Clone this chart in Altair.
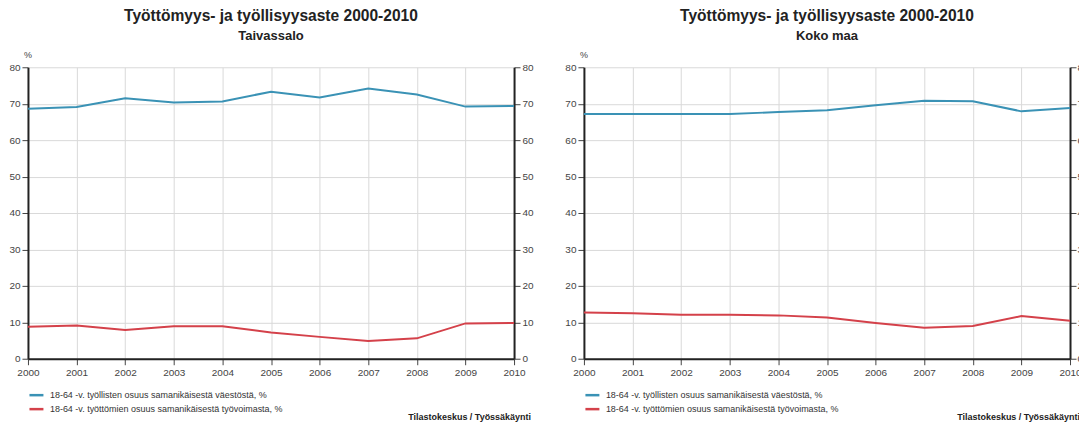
import altair as alt
import pandas as pd

years = list(range(2000, 2011))
taivassalo_employed = [68.6, 69.1, 71.5, 70.3, 70.6, 73.3, 71.7, 74.2, 72.5, 69.2, 69.4]
taivassalo_unemployed = [8.8, 9.1, 7.9, 8.9, 8.9, 7.2, 6.0, 4.9, 5.6, 9.7, 9.8]
koko_employed = [67.2, 67.2, 67.2, 67.2, 67.7, 68.2, 69.6, 70.8, 70.7, 67.9, 68.8]
koko_unemployed = [12.7, 12.5, 12.1, 12.1, 11.9, 11.3, 9.8, 8.5, 9.0, 11.7, 10.4]
y_ticks = [0, 10, 20, 30, 40, 50, 60, 70, 80]
series_names = [
    "18-64 -v. työllisten osuus samanikäisestä väestöstä, %",
    "18-64 -v. työttömien osuus samanikäisestä työvoimasta, %",
]
colors = ["#3a92b5", "#d4414a"]
main_title = "Työttömyys- ja työllisyysaste 2000-2010"
source_text = "Tilastokeskus / Työssäkäynti"

W, H = 487, 292
FONT = "Liberation Sans"


def panel(region, emp, unemp, right_pad, src_dx):
    df = pd.DataFrame({
        "year": years + years,
        "value": emp + unemp,
        "series": [series_names[0]] * len(years) + [series_names[1]] * len(years),
    })
    x = alt.X("year:Q", scale=alt.Scale(domain=[2000, 2010], nice=False, zero=False),
              axis=alt.Axis(values=years, format="d", title=None, grid=True, labelFlush=False,
                            gridColor="#d9d9d9", tickSize=6, labelPadding=3))
    yscale = alt.Scale(domain=[0, 80], nice=False)
    base = alt.Chart(df)
    lines = base.mark_line(strokeWidth=2).encode(
        x=x,
        y=alt.Y("value:Q", scale=yscale,
                axis=alt.Axis(orient="left", values=y_ticks, title=None, grid=True,
                              gridColor="#d9d9d9", tickSize=6, labelPadding=2)),
        color=alt.Color("series:N", scale=alt.Scale(domain=series_names, range=colors),
                        legend=alt.Legend(title=None, orient="none", legendX=0, legendY=320,
                                          symbolType="stroke", symbolStrokeWidth=2.5,
                                          symbolSize=196, labelFontSize=9, labelColor="#333",
                                          labelFont=FONT, rowPadding=0, padding=0,
                                          labelOffset=5, labelLimit=400)),
    )
    right = base.mark_line(opacity=0).encode(
        x=x,
        y=alt.Y("value:Q", scale=yscale,
                axis=alt.Axis(orient="right", values=y_ticks, title=None, grid=False,
                              tickSize=6, labelPadding=right_pad)),
        detail="series:N",
    )
    pct = alt.Chart(pd.DataFrame({"t": ["%"]})).mark_text(
        fontSize=9, font=FONT, color="#444", align="center", baseline="bottom"
    ).encode(x=alt.value(0), y=alt.value(-7), text="t:N")
    src = alt.Chart(pd.DataFrame({"t": [source_text]})).mark_text(
        fontSize=9, font=FONT, fontWeight="bold", color="#222", align="right", baseline="alphabetic"
    ).encode(x=alt.value(W + src_dx), y=alt.value(H + 61), text="t:N")
    return alt.layer(lines, right, pct, src).resolve_axis(y="independent").properties(
        width=W, height=H,
        title=alt.TitleParams(text=main_title, subtitle=region, fontSize=15.6, subtitleFontSize=13,
                              fontWeight="bold", subtitleFontWeight="bold", anchor="middle",
                              color="#222", subtitleColor="#222", font=FONT, subtitleFont=FONT,
                              offset=8, subtitlePadding=6),
    )


chart = alt.hconcat(
    panel("Taivassalo", taivassalo_employed, taivassalo_unemployed, 2, 17),
    panel("Koko maa", koko_employed, koko_unemployed, 1, 10),
    spacing=30,
).resolve_scale(color="independent").properties(
    padding={"left": 0, "top": 0, "right": -10, "bottom": 0}
).configure(background="white").configure_view(stroke=None).configure_axis(
    domainColor="#222", domainWidth=2, tickColor="#444", labelColor="#444",
    labelFontSize=10, labelFont=FONT,
)

chart.save("out.html", embed_options={"renderer": "svg", "actions": False})
